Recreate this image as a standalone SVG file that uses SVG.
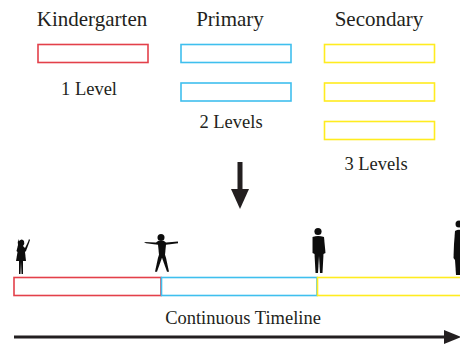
<svg xmlns="http://www.w3.org/2000/svg" width="460" height="347" viewBox="0 0 460 347">
  <style>
    .title { font-family: "Liberation Serif", "Times New Roman", serif; font-size: 21px; fill: #231f20; text-anchor: middle; }
    .label { font-family: "Liberation Serif", "Times New Roman", serif; font-size: 18.5px; fill: #231f20; text-anchor: middle; }
    .red { fill: none; stroke: #e3404a; stroke-width: 1.6; }
    .blue { fill: none; stroke: #3fbfee; stroke-width: 1.6; }
    .yellow { fill: none; stroke: #ffec1f; stroke-width: 1.6; }
    .fig { fill: #111; }
  </style>
  <defs>
    <filter id="soft" x="-20%" y="-20%" width="140%" height="140%">
      <feGaussianBlur stdDeviation="0.5"/>
    </filter>
  </defs>

  <!-- Stage columns -->
  <g id="kindergarten">
    <text class="title" x="92" y="26">Kindergarten</text>
    <rect class="red" x="38" y="44.5" width="110" height="18"/>
    <text class="label" x="89" y="95">1 Level</text>
  </g>
  <g id="primary">
    <text class="title" x="230" y="26">Primary</text>
    <rect class="blue" x="181" y="44.5" width="110" height="18"/>
    <rect class="blue" x="181" y="83" width="110" height="18"/>
    <text class="label" x="231" y="128">2 Levels</text>
  </g>
  <g id="secondary">
    <text class="title" x="379" y="26">Secondary</text>
    <rect class="yellow" x="324.5" y="44.5" width="110" height="18"/>
    <rect class="yellow" x="324.5" y="83" width="110" height="18"/>
    <rect class="yellow" x="324.5" y="121.5" width="110" height="18"/>
    <text class="label" x="376" y="170">3 Levels</text>
  </g>

  <!-- Continuous timeline bar -->
  <g id="timeline">
    <rect class="red" x="14" y="277.5" width="147" height="18"/>
    <rect class="blue" x="161.5" y="277.5" width="155.5" height="18"/>
    <rect class="yellow" x="317.5" y="277.5" width="150" height="18"/>
    <text class="label" x="243" y="324">Continuous Timeline</text>
  </g>

  <!-- Silhouettes standing on the timeline -->
  <g id="figures" class="fig" filter="url(#soft)">
    <!-- small girl waving -->
    <path d="M19 241 q3-3 5 0 q1 3-1 5 l2 2 l3-6 l1-3 l1 1 l-1 3 l-3 8 l-1 1 l1 9 h-3 l0 13 h-1.5 l-0.5-12 l-0.5 12 h-1.5 l0-13 h-3 l1.5-9 l-1 -1 l1.5-6 q-1-3 1-6 z"/>
    <!-- child with arms outstretched -->
    <circle cx="161" cy="237.5" r="3.5"/>
    <path d="M144 242 l12 0.5 l2-1.5 h6 l2 1.5 l12-1 v1.8 l-12 1.5 l-1 10 l1 3 l3 14 h-2 l-5-14 l-5 14 h-2 l3-14 l1-3 l-1-10 l-12-1.5 z"/>
    <!-- adult -->
    <circle cx="318" cy="231.5" r="3.6"/>
    <path d="M312.5 237 q5.5-2 11.5 0 l1.5 16 l-2 1 l-1 19 h-2.5 l-1-17 l-1 17 h-2.5 l-1-19 l-2-1 z"/>
    <!-- tall adult at the edge -->
    <circle cx="459" cy="224" r="3.5"/>
    <path d="M455 231 q3-2 6-1 v45 h-5 l-1-15 l-1.5-2 l0.5-14 z"/>
  </g>

  <!-- Arrows -->
  <g id="connectors" fill="#231f20">
    <rect x="237.5" y="162" width="5" height="28"/>
    <polygon points="231,189 249,189 240,209"/>
    <rect x="14" y="335.5" width="432" height="3"/>
    <polygon points="444,330 461,337 444,344"/>
  </g>
</svg>
